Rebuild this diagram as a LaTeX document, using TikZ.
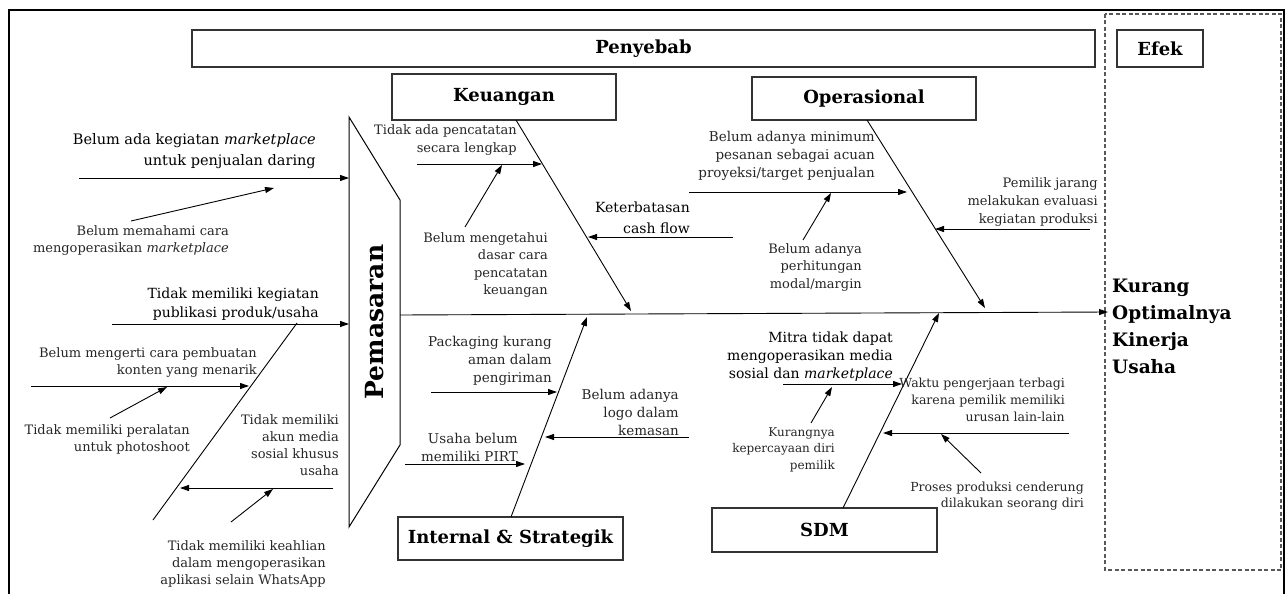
\documentclass[tikz,border=0pt]{standalone}
\usepackage{fontspec}
\setmainfont{DejaVu Serif}
\usetikzlibrary{arrows.meta}
\begin{document}
\begin{tikzpicture}[x=1pt,y=-1pt,
  ln/.style={line width=0.9pt},
  arr/.style={line width=0.9pt,-{Triangle[length=9pt,width=6pt]}},
  box/.style={draw=black!80,line width=1.1pt,inner sep=0pt,font=\fontsize{18}{22}\selectfont\bfseries},
  lbl/.style={inner sep=0pt,align=right,anchor=east,text=black!85,font=\fontsize{13}{17}\selectfont},
  big/.style={lbl,text=black,font=\fontsize{14.5}{21}\selectfont},
]
\useasboundingbox (0,0) rectangle (1288,594);
% frame
\draw[line width=1.4pt] (9,594) -- (9,10) -- (1284,10) -- (1284,594);
\draw[black!65,line width=1.3pt,dash pattern=on 4pt off 2.5pt] (1105,14) rectangle (1281,570);
% header boxes
\node[box,minimum width=903pt,minimum height=37pt] (pen) at (643.5,48.5) {Penyebab};
\node[box,minimum width=86pt,minimum height=37pt] (efek) at (1160,48.5) {Efek};
\node[box,minimum width=224pt,minimum height=46pt] (keu) at (504,97) {Keuangan};
\node[box,minimum width=224pt,minimum height=43pt] (ops) at (864,98.5) {Operasional};
\node[box,minimum width=225pt,minimum height=43pt] (ist) at (510.5,538.5) {Internal \& Strategik};
\node[box,minimum width=225pt,minimum height=44pt] (sdm) at (824.5,530) {SDM};
% Pemasaran
\draw[line width=1pt] (349,117) -- (400,200) -- (400,445) -- (349,527) -- cycle;
\node[rotate=90,font=\fontsize{25}{30}\selectfont\bfseries] (pem) at (375,322) {Pemasaran};
% effect
\node[inner sep=0pt,anchor=west,align=left,font=\fontsize{18.5}{27}\selectfont\bfseries] (eff) at (1112,326.5) {Kurang\\Optimalnya\\Kinerja\\Usaha};
% spine
\coordinate (spS) at (400,315);
\coordinate (spE) at (1108,312);
\draw[arr] (spS) -- (spE);
% coordinates
\coordinate (kb1) at (516,120); \coordinate (kb2) at (631,311);
\coordinate (ob1) at (867,120); \coordinate (ob2) at (985,308);
\coordinate (ib1) at (511,517); \coordinate (ib2) at (587,317);
\coordinate (sb1) at (843,508); \coordinate (sb2) at (939,313);
\coordinate (pb1) at (153,520); \coordinate (pb2) at (297,323);
\draw[arr] (kb1) -- (kb2);
\draw[arr] (ob1) -- (ob2);
\draw[arr] (ib1) -- (ib2);
\draw[arr] (sb1) -- (sb2);
\draw[ln] (pb1) -- (pb2);
% left (Pemasaran)
\coordinate (l1a) at (79,178); \coordinate (l1b) at (349,178);
\coordinate (l1sa) at (131,221); \coordinate (l1sb) at (274,188);
\coordinate (l2a) at (112,324); \coordinate (l2b) at (349,324);
\coordinate (l3a) at (31,386); \coordinate (l3b) at (249,386);
\coordinate (l3sa) at (110,418); \coordinate (l3sb) at (167,387);
\coordinate (l4a) at (333,488); \coordinate (l4b) at (180,488);
\coordinate (l4sa) at (231,522); \coordinate (l4sb) at (273,489);
\draw[arr] (l1a) -- (l1b);
\draw[arr] (l1sa) -- (l1sb);
\draw[arr] (l2a) -- (l2b);
\draw[arr] (l3a) -- (l3b);
\draw[arr] (l3sa) -- (l3sb);
\draw[arr] (l4a) -- (l4b);
\draw[arr] (l4sa) -- (l4sb);
\node[big] (t1) at (316,151.5) {Belum ada kegiatan \textit{marketplace}\\untuk penjualan daring};
\node[lbl] (t1s) at (229,241) {Belum memahami cara\\mengoperasikan \textit{marketplace}};
\node[big,font=\fontsize{14}{18.5}\selectfont] (t2) at (319,304) {Tidak memiliki kegiatan\\publikasi produk/usaha};
\node[lbl] (t3) at (257,363) {Belum mengerti cara pembuatan\\konten yang menarik};
\node[lbl] (t3s) at (190,439) {Tidak memiliki peralatan\\untuk photoshoot};
\node[lbl] (t4) at (339,445) {Tidak memiliki\\akun media\\sosial khusus\\usaha};
\node[lbl] (t4s) at (326,563.5) {Tidak memiliki keahlian\\dalam mengoperasikan\\aplikasi selain WhatsApp};
% Keuangan
\coordinate (k1a) at (417,164); \coordinate (k1b) at (542,164);
\coordinate (k1sa) at (465,227); \coordinate (k1sb) at (502,165);
\coordinate (k2a) at (733,237); \coordinate (k2b) at (588,237);
\draw[arr] (k1a) -- (k1b);
\draw[arr] (k1sa) -- (k1sb);
\draw[arr] (k2a) -- (k2b);
\node[lbl,font=\fontsize{13}{18}\selectfont] (tk1) at (517,140) {Tidak ada pencatatan\\secara lengkap};
\node[lbl,font=\fontsize{13}{17.5}\selectfont] (tk1s) at (548,265) {Belum mengetahui\\dasar cara\\pencatatan\\keuangan};
\node[big,font=\fontsize{14}{21}\selectfont] (tk2) at (690,217.5) {Keterbatasan\\cash flow};
% Operasional
\coordinate (o1a) at (689,192); \coordinate (o1b) at (907,192);
\coordinate (o1sa) at (803,240); \coordinate (o1sb) at (831,193);
\coordinate (o2a) at (1090,229); \coordinate (o2b) at (935,229);
\draw[arr] (o1a) -- (o1b);
\draw[arr] (o1sa) -- (o1sb);
\draw[arr] (o2a) -- (o2b);
\node[lbl,font=\fontsize{13.5}{18}\selectfont] (to1) at (875,156) {Belum adanya minimum\\pesanan sebagai acuan\\proyeksi/target penjualan};
\node[lbl,font=\fontsize{13}{17.5}\selectfont] (to1s) at (862,267.5) {Belum adanya\\perhitungan\\modal/margin};
\node[lbl,font=\fontsize{13}{18}\selectfont] (to2) at (1098,202) {Pemilik jarang\\melakukan evaluasi\\kegiatan produksi};
% Internal & Strategik
\coordinate (i1a) at (431,392); \coordinate (i1b) at (557,392);
\coordinate (i2a) at (689,437); \coordinate (i2b) at (545,437);
\coordinate (i3a) at (405,464); \coordinate (i3b) at (525,464);
\draw[arr] (i1a) -- (i1b);
\draw[arr] (i2a) -- (i2b);
\draw[arr] (i3a) -- (i3b);
\node[lbl,font=\fontsize{13.5}{18}\selectfont] (ti1) at (552,361) {Packaging kurang\\aman dalam\\pengiriman};
\node[lbl,font=\fontsize{13.5}{18}\selectfont] (ti2) at (679,412) {Belum adanya\\logo dalam\\kemasan};
\node[lbl,font=\fontsize{13.5}{18}\selectfont] (ti3) at (518,447) {Usaha belum\\memiliki PIRT};
% SDM
\coordinate (s1a) at (783,384); \coordinate (s1b) at (902,384);
\coordinate (s1sa) at (811,423); \coordinate (s1sb) at (832,387);
\coordinate (s2a) at (1069,433); \coordinate (s2b) at (883,433);
\coordinate (s2sa) at (981,473); \coordinate (s2sb) at (941,434);
\draw[arr] (s1a) -- (s1b);
\draw[arr] (s1sa) -- (s1sb);
\draw[arr] (s2a) -- (s2b);
\draw[arr] (s2sa) -- (s2sb);
\node[big,font=\fontsize{14}{18}\selectfont] (ts1) at (893,357) {Mitra tidak dapat\\mengoperasikan media\\sosial dan \textit{marketplace}};
\node[lbl,font=\fontsize{12}{16.5}\selectfont] (ts1s) at (835,449.5) {Kurangnya\\kepercayaan diri\\pemilik};
\node[lbl,font=\fontsize{12.5}{17}\selectfont] (ts2) at (1065,400) {Waktu pengerjaan terbagi\\karena pemilik memiliki\\urusan lain-lain};
\node[lbl,font=\fontsize{12.5}{16.5}\selectfont] (ts2s) at (1084,496) {Proses produksi cenderung\\dilakukan seorang diri};
\end{tikzpicture}
\end{document}
